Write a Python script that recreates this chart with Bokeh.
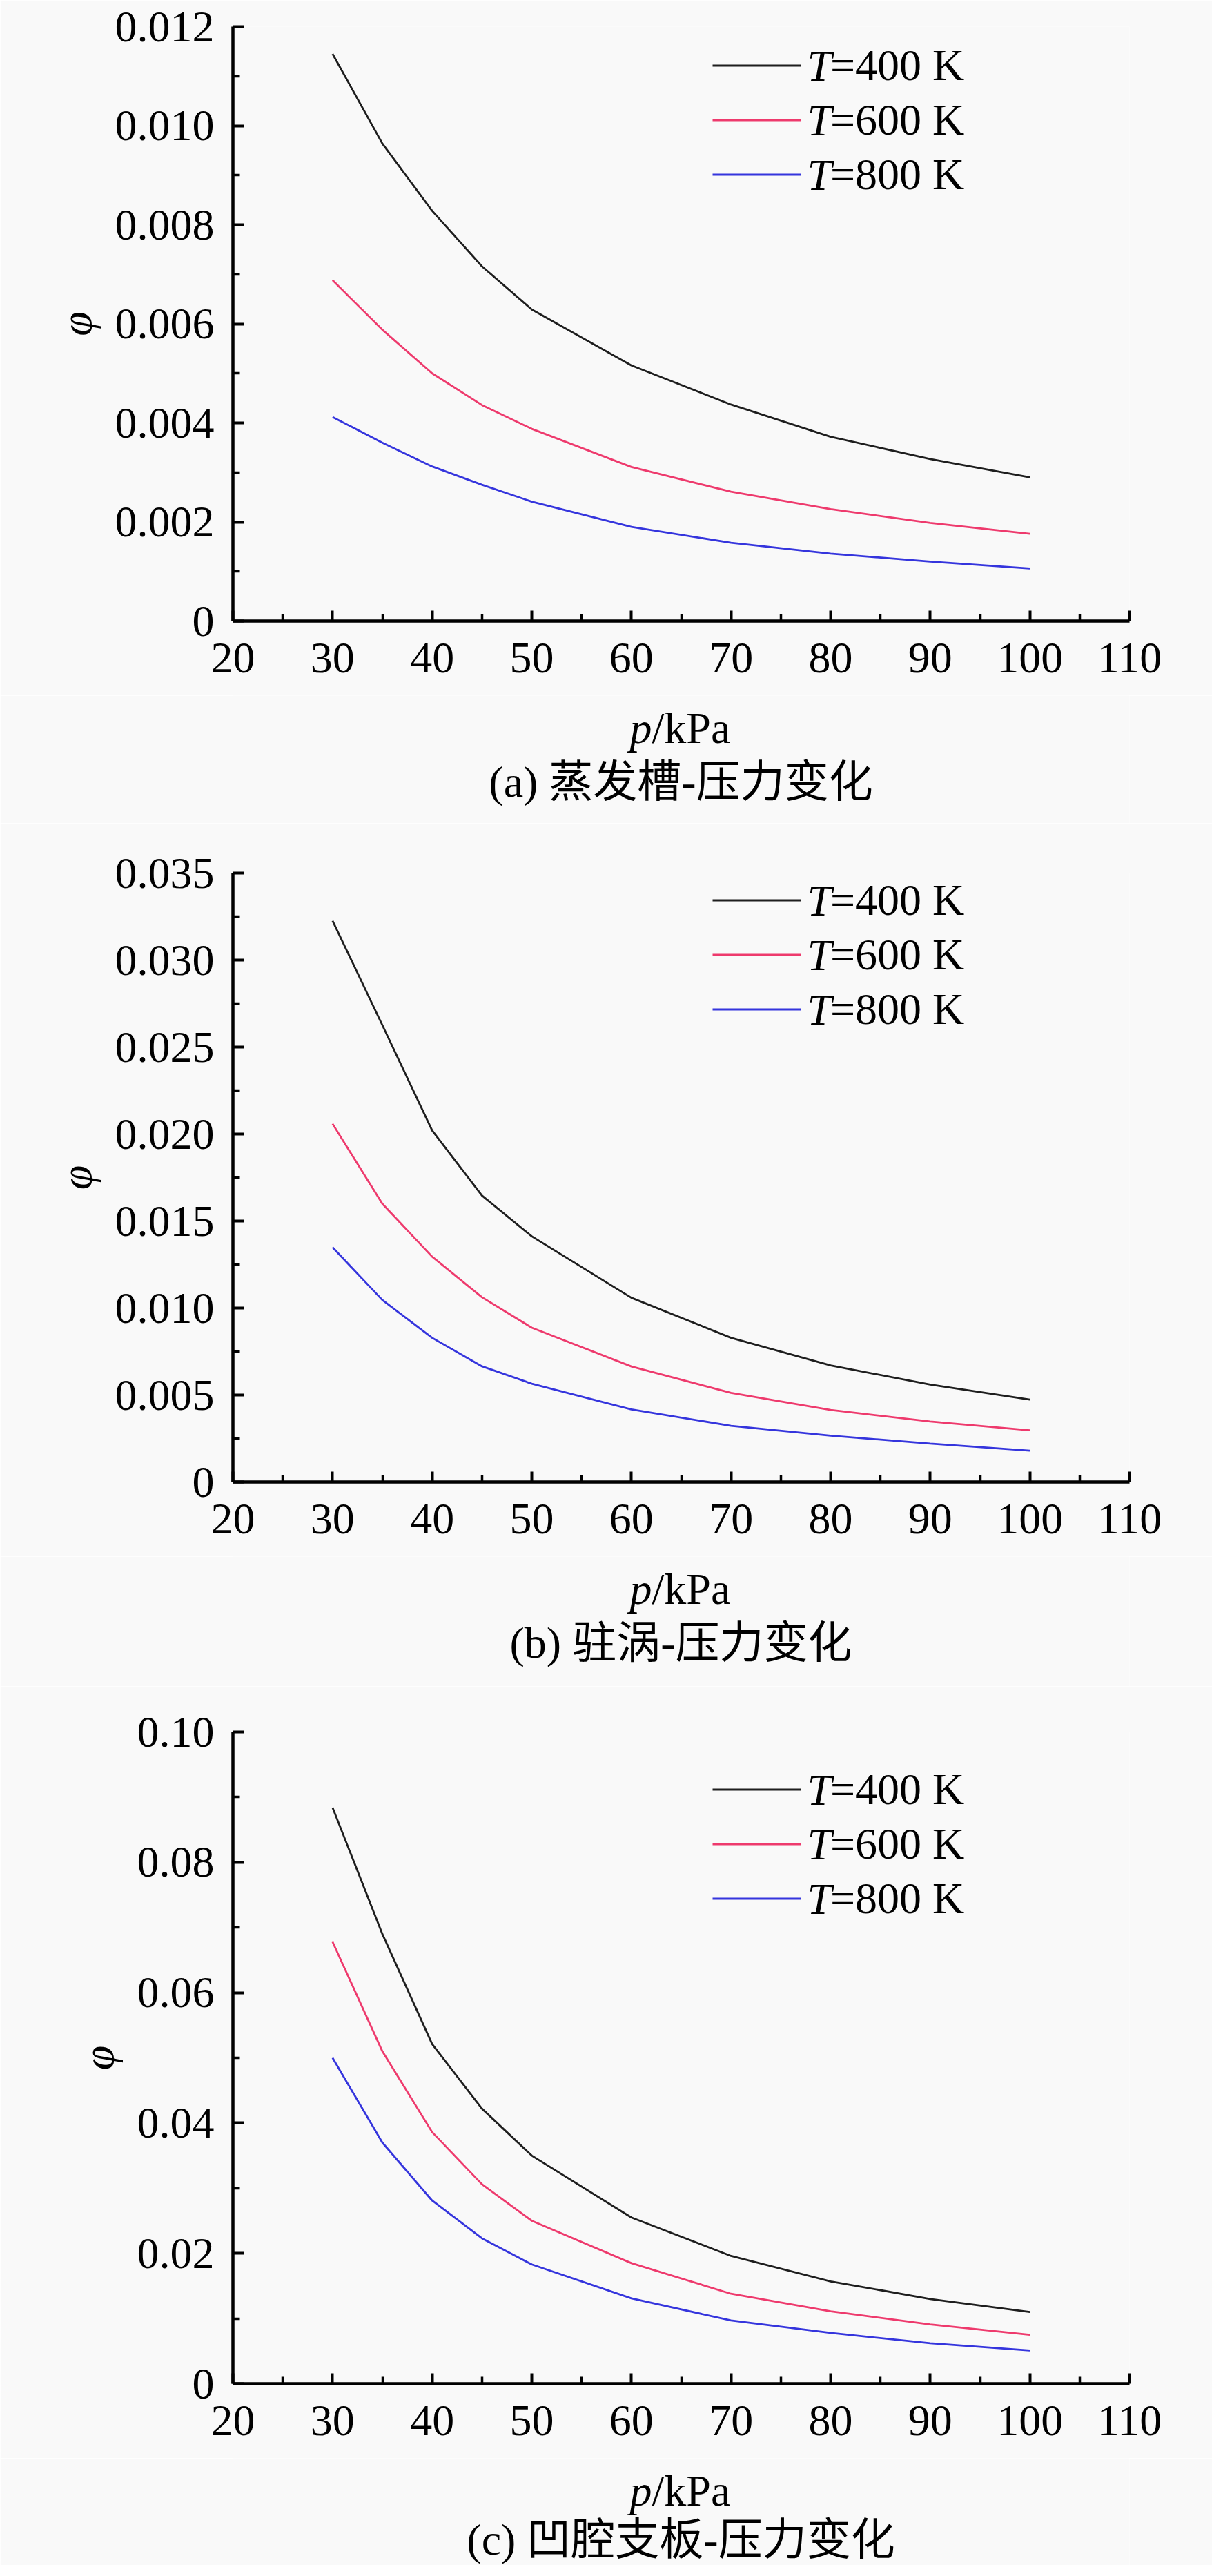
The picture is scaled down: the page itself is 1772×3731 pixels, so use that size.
from bokeh.plotting import figure
from bokeh.models import ColumnDataSource, Range1d, FixedTicker, Label
from bokeh.layouts import column
from bokeh.embed import file_html
from bokeh.resources import INLINE

# ---------------- data ----------------
PRESSURE = [30, 35, 40, 45, 50, 60, 70, 80, 90, 100]
LEGEND_VAR = "T"
LEGEND_VALUES = ["=400 K", "=600 K", "=800 K"]

A_T400 = [0.01145, 0.00964, 0.00828, 0.00716, 0.00629, 0.00516, 0.00437, 0.00372, 0.00327, 0.00290]
A_T600 = [0.00688, 0.00588, 0.00500, 0.00436, 0.00388, 0.00311, 0.00261, 0.00226, 0.00198, 0.00176]
A_T800 = [0.00412, 0.00360, 0.00312, 0.00275, 0.00241, 0.00190, 0.00158, 0.00136, 0.00120, 0.00106]

B_T400 = [0.03226, 0.02626, 0.02020, 0.01646, 0.01412, 0.01059, 0.00829, 0.00670, 0.00560, 0.00474]
B_T600 = [0.02059, 0.01599, 0.01295, 0.01062, 0.00887, 0.00664, 0.00512, 0.00414, 0.00348, 0.00297]
B_T800 = [0.01349, 0.01046, 0.00829, 0.00665, 0.00565, 0.00417, 0.00323, 0.00266, 0.00221, 0.00180]

C_T400 = [0.0884, 0.0690, 0.0521, 0.0422, 0.0350, 0.0255, 0.0196, 0.0157, 0.0130, 0.0110]
C_T600 = [0.0678, 0.0510, 0.0386, 0.0306, 0.0250, 0.0185, 0.0138, 0.0111, 0.0091, 0.0075]
C_T800 = [0.0500, 0.0370, 0.0281, 0.0223, 0.0183, 0.0131, 0.0097, 0.0078, 0.0062, 0.0051]

X_TICKS = [20, 30, 40, 50, 60, 70, 80, 90, 100, 110]
X_TICK_LABELS = ["20", "30", "40", "50", "60", "70", "80", "90", "100", "110"]
X_MINOR = [25, 35, 45, 55, 65, 75, 85, 95, 105]

A_Y_TICKS = [0, 0.002, 0.004, 0.006, 0.008, 0.010, 0.012]
A_Y_LABELS = ["0", "0.002", "0.004", "0.006", "0.008", "0.010", "0.012"]
A_Y_MINOR = [0.001, 0.003, 0.005, 0.007, 0.009, 0.011]

B_Y_TICKS = [0, 0.005, 0.010, 0.015, 0.020, 0.025, 0.030, 0.035]
B_Y_LABELS = ["0", "0.005", "0.010", "0.015", "0.020", "0.025", "0.030", "0.035"]
B_Y_MINOR = [0.0025, 0.0075, 0.0125, 0.0175, 0.0225, 0.0275, 0.0325]

C_Y_TICKS = [0, 0.02, 0.04, 0.06, 0.08, 0.10]
C_Y_LABELS = ["0", "0.02", "0.04", "0.06", "0.08", "0.10"]
C_Y_MINOR = [0.01, 0.03, 0.05, 0.07, 0.09]

Y_TITLE = "φ"
X_TITLE_VAR = "p"
X_TITLE_UNIT = "/kPa"
CAPTIONS = ["(a) 蒸发槽-压力变化", "(b) 驻涡-压力变化", "(c) 凹腔支板-压力变化"]

# ---------------- style ----------------
COLORS = ["#1e1e1e", "#ee3a6d", "#3535dd"]
SERIF = "Liberation Serif"
CJK = "'Liberation Serif', 'Noto Sans CJK SC'"
FS = "64px"
BG = "#f9f9f9"
FIG_W = 1756
LEG_X = 695          # legend left, px from the frame's left edge
LEG_GLYPH_W = 128
LEG_ROW_H = 79


def make_panel(series, yticks, ylabels, yminor, height, b_top, b_bottom, legend_y):
    p = figure(width=FIG_W, height=height, output_backend="svg", toolbar_location=None,
               x_range=Range1d(X_TICKS[0], X_TICKS[-1]), y_range=Range1d(0, yticks[-1]),
               min_border_left=337, min_border_right=120,
               min_border_top=b_top, min_border_bottom=b_bottom)
    p.background_fill_color = BG
    p.border_fill_color = BG
    p.outline_line_color = None
    p.xgrid.visible = False
    p.ygrid.visible = False

    src = ColumnDataSource(dict(p=PRESSURE, t400=series[0], t600=series[1], t800=series[2]))
    for key, col, lab in zip(["t400", "t600", "t800"], COLORS, LEGEND_VALUES):
        p.line(x="p", y=key, source=src, line_color=col, line_width=2.8, legend_label=lab)

    xa = p.xaxis[0]
    xa.ticker = FixedTicker(ticks=X_TICKS, minor_ticks=X_MINOR)
    xa.major_label_overrides = {t: l for t, l in zip(X_TICKS, X_TICK_LABELS)}
    ya = p.yaxis[0]
    ya.ticker = FixedTicker(ticks=yticks, minor_ticks=yminor)
    ya.major_label_overrides = {t: l for t, l in zip(yticks, ylabels)}

    for ax in (xa, ya):
        ax.axis_line_width = 4.5
        ax.axis_line_color = "black"
        ax.major_tick_out = 0
        ax.minor_tick_out = 0
        ax.major_tick_line_width = 4
        ax.minor_tick_line_width = 3.5
        ax.major_tick_line_color = "black"
        ax.minor_tick_line_color = "black"
        ax.major_label_text_font = SERIF
        ax.major_label_text_font_size = FS
        ax.major_label_text_color = "black"
    xa.major_tick_in = 15
    xa.minor_tick_in = 10
    ya.major_tick_in = 16
    ya.minor_tick_in = 10
    xa.major_label_standoff = 32
    ya.major_label_standoff = 27

    ya.axis_label = Y_TITLE
    ya.axis_label_text_font = SERIF
    ya.axis_label_text_font_style = "italic"
    ya.axis_label_text_font_size = FS
    ya.axis_label_text_color = "black"
    ya.axis_label_standoff = 18

    lg = p.legend[0]
    lg.location = (LEG_X, legend_y)
    lg.orientation = "vertical"
    lg.glyph_width = LEG_GLYPH_W
    lg.glyph_height = LEG_ROW_H
    lg.label_height = LEG_ROW_H
    lg.spacing = 0
    lg.padding = 0
    lg.margin = 0
    lg.label_standoff = 43
    lg.label_text_font = SERIF
    lg.label_text_font_size = FS
    lg.label_text_color = "black"
    lg.border_line_color = None
    lg.background_fill_alpha = 0
    # italic "T" in front of each legend entry
    n = len(LEGEND_VALUES)
    top = legend_y + n * LEG_ROW_H
    for i in range(n):
        p.add_layout(Label(x=LEG_X + LEG_GLYPH_W + 9, y=top - (i + 0.5) * LEG_ROW_H,
                           x_units="screen", y_units="screen", text=LEGEND_VAR,
                           text_align="left", text_baseline="middle",
                           text_font=SERIF, text_font_style="italic",
                           text_font_size=FS, text_color="black"))
    return p


def make_text(caption, page_top, page_bottom, xlab_y, cap_y):
    # a text strip under a chart; its y range is expressed in page pixels (top -> bottom)
    t = figure(width=FIG_W, height=page_bottom - page_top, output_backend="svg",
               toolbar_location=None,
               x_range=Range1d(0, 1), y_range=Range1d(page_bottom, page_top),
               x_axis_type=None, y_axis_type=None,
               min_border_left=0, min_border_right=0, min_border_top=0, min_border_bottom=0)
    t.background_fill_color = BG
    t.border_fill_color = BG
    t.outline_line_color = None
    t.xgrid.visible = False
    t.ygrid.visible = False
    # this strip's frame is aligned with the chart frame above (left edge = p 20 axis)
    t.add_layout(Label(x=607, y=xlab_y, x_units="screen", y_units="data", text=X_TITLE_VAR,
                       text_align="right", text_baseline="middle",
                       text_font=SERIF, text_font_style="italic",
                       text_font_size=FS, text_color="black"))
    t.add_layout(Label(x=607, y=xlab_y, x_units="screen", y_units="data", text=X_TITLE_UNIT,
                       text_align="left", text_baseline="middle",
                       text_font=SERIF, text_font_size=FS, text_color="black"))
    t.add_layout(Label(x=649, y=cap_y, x_units="screen", y_units="data", text=caption,
                       text_align="center", text_baseline="middle",
                       text_font=CJK, text_font_size=FS, text_color="black"))
    return t


pa = make_panel([A_T400, A_T600, A_T800], A_Y_TICKS, A_Y_LABELS, A_Y_MINOR,
                1007, 38, 108, 607)
ta = make_text(CAPTIONS[0], 1015, 1200, 1062, 1140)
pb = make_panel([B_T400, B_T600, B_T800], B_Y_TICKS, B_Y_LABELS, B_Y_MINOR,
                1062, 72, 108, 645)
tb = make_text(CAPTIONS[1], 2262, 2450, 2309, 2387)
pc = make_panel([C_T400, C_T600, C_T800], C_Y_TICKS, C_Y_LABELS, C_Y_MINOR,
                1118, 66, 108, 663)
tc = make_text(CAPTIONS[2], 3568, 3723, 3615, 3686)

layout = column(pa, ta, pb, tb, pc, tc, spacing=0)
open("out.html", "w").write(file_html(layout, INLINE))
